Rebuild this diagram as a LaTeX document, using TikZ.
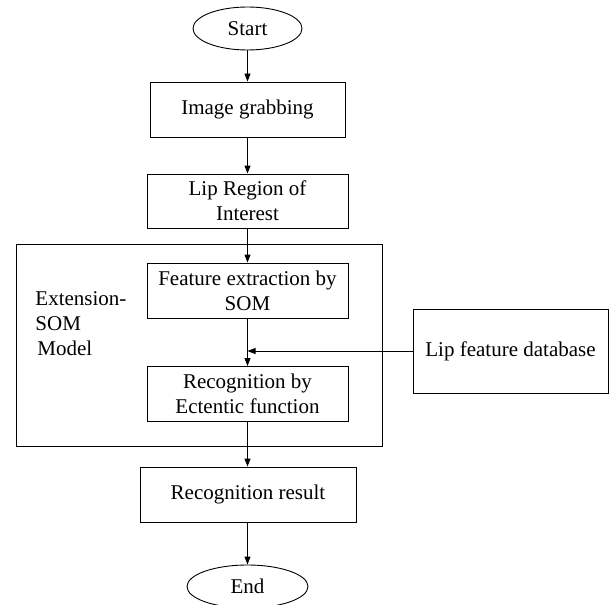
\documentclass[tikz,border=0pt]{standalone}
\usepackage{fontspec}
\setmainfont{Liberation Serif}
\usetikzlibrary{arrows.meta,positioning,shapes}

\begin{document}
\begin{tikzpicture}[x=1pt,y=-1pt,line width=.9pt,
  font=\fontsize{21}{25}\selectfont,
  box/.style={draw,rectangle,inner sep=0pt,align=center},
  term/.style={draw,ellipse,inner sep=0pt},
  flow/.style={-{Triangle[length=8pt,width=6pt]}}]
\useasboundingbox (0,0) rectangle (609,604);
\node[term,minimum width=109,minimum height=43] (start) at (247.5,28.5) {Start};
\node[box,minimum width=195,minimum height=55] (grab) at (247.5,109.5) {Image grabbing};
\node[box,minimum width=201,minimum height=54] (roi) at (247.5,201) {Lip Region of\\Interest};
\node[box,minimum width=366,minimum height=202] (esom) at (199,345) {};
\node[align=left,anchor=north west,inner sep=0pt] (esomlbl) at (35,291) {Extension-\\SOM\\\hspace{2pt}Model};
\node[box,minimum width=201,minimum height=55] (feat) at (247.5,290.5) {Feature extraction by\\SOM};
\node[box,minimum width=201,minimum height=55] (recog) at (247.5,394) {Recognition by\\Ectentic function};
\node[box,minimum width=195,minimum height=84] (db) at (510.5,351) {Lip feature database};
\node[box,minimum width=216,minimum height=55] (res) at (248,494.5) {Recognition result};
\node[term,minimum width=121,minimum height=43] (fin) at (247.5,586.5) {End};
\draw[flow] (start) -- (grab);
\draw[flow] (grab) -- (roi);
\draw[flow] (roi) -- (feat);
\draw[flow] (feat) -- (recog);
\draw[flow] (db.west) -- (db.west -| feat.south);
\draw[flow] (recog) -- (recog.south |- res.north);
\draw[flow] (res.south -| fin.north) -- (fin);
\end{tikzpicture}
\end{document}
